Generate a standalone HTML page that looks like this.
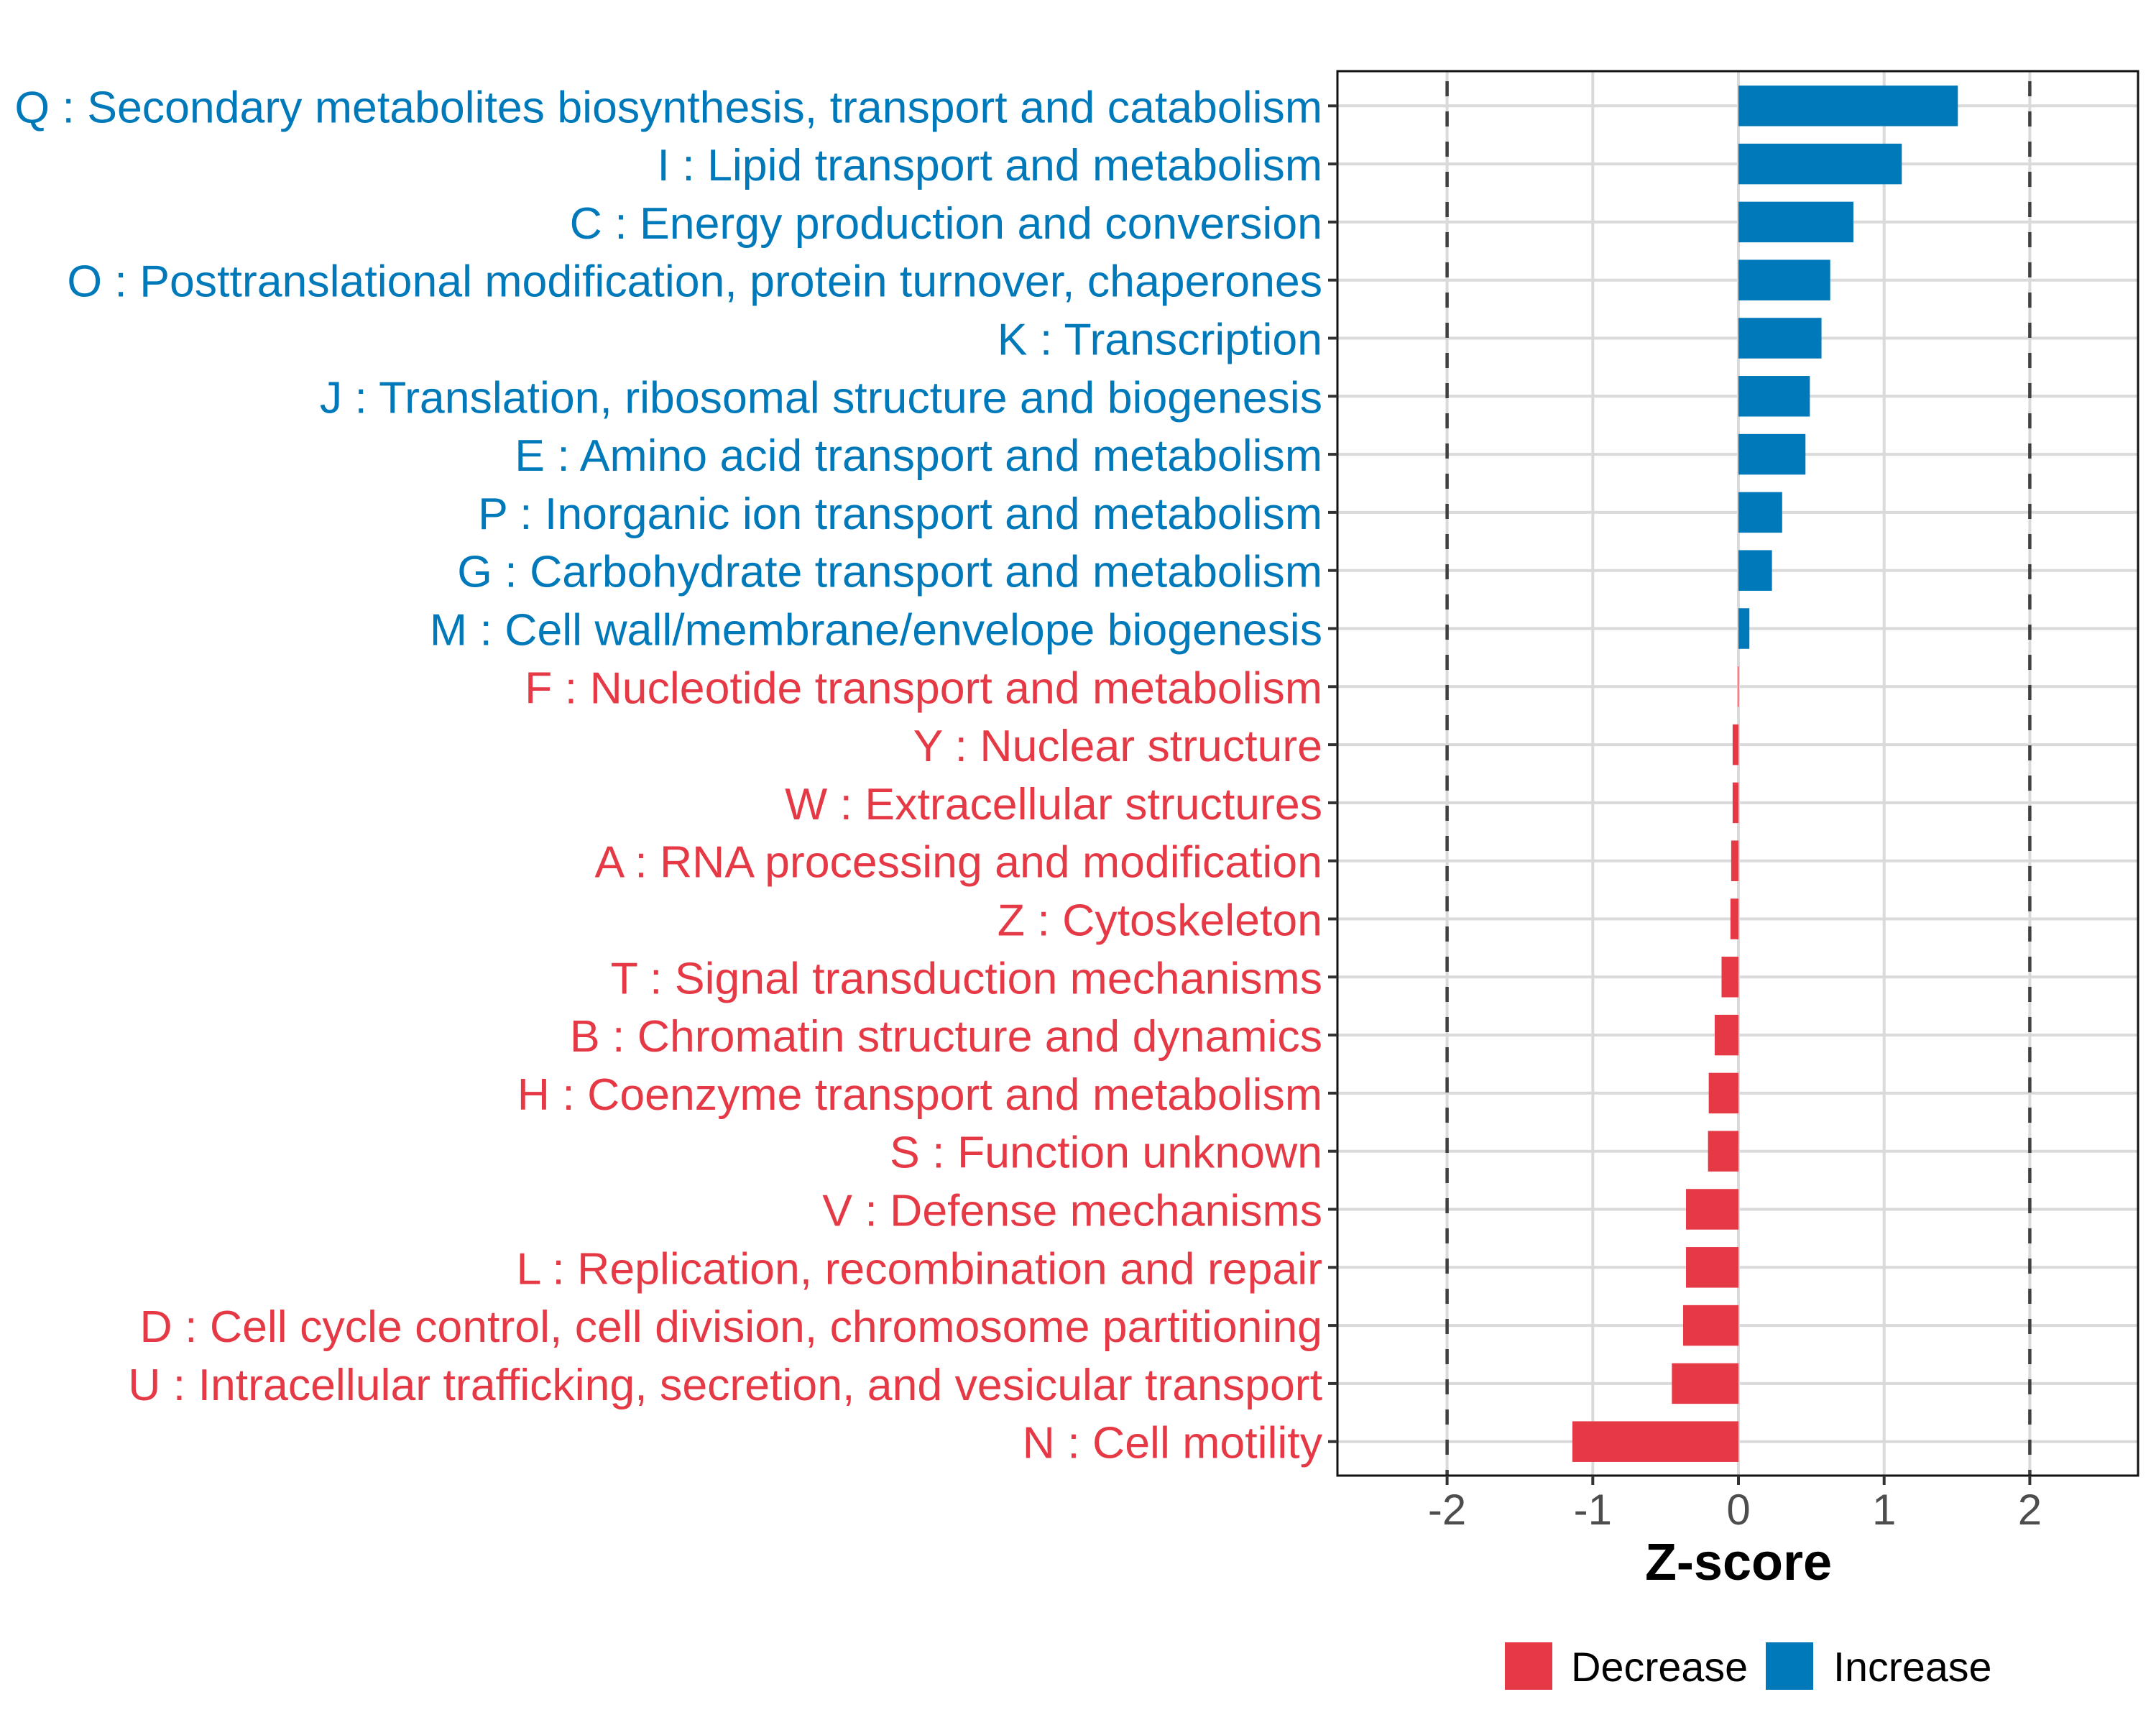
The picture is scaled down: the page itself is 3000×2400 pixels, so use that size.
<!DOCTYPE html>
<html><head><meta charset="utf-8"><style>
html,body{margin:0;padding:0;background:#fff;}
svg{display:block;font-family:"Liberation Sans",Arial,sans-serif;}
</style></head><body>
<svg id="chart" width="3000" height="2400" viewBox="0 0 3000 2400" xmlns="http://www.w3.org/2000/svg">
<rect width="3000" height="2400" fill="#fff"/>
<g id="grid"></g><g id="bars"></g><g id="axes"></g>
</svg>
<script>
const categories = [
"Q : Secondary metabolites biosynthesis, transport and catabolism",
"I : Lipid transport and metabolism",
"C : Energy production and conversion",
"O : Posttranslational modification, protein turnover, chaperones",
"K : Transcription",
"J : Translation, ribosomal structure and biogenesis",
"E : Amino acid transport and metabolism",
"P : Inorganic ion transport and metabolism",
"G : Carbohydrate transport and metabolism",
"M : Cell wall/membrane/envelope biogenesis",
"F : Nucleotide transport and metabolism",
"Y : Nuclear structure",
"W : Extracellular structures",
"A : RNA processing and modification",
"Z : Cytoskeleton",
"T : Signal transduction mechanisms",
"B : Chromatin structure and dynamics",
"H : Coenzyme transport and metabolism",
"S : Function unknown",
"V : Defense mechanisms",
"L : Replication, recombination and repair",
"D : Cell cycle control, cell division, chromosome partitioning",
"U : Intracellular trafficking, secretion, and vesicular transport",
"N : Cell motility"];
const zscores = [1.506,1.121,0.789,0.63,0.57,0.49,0.46,0.30,0.23,0.075,-0.005,-0.04,-0.04,-0.05,-0.055,-0.116,-0.163,-0.204,-0.209,-0.36,-0.36,-0.38,-0.457,-1.14];
const xTicks = [-2,-1,0,1,2];
const xTickLabels = ["-2","-1","0","1","2"];
const thresholds = [-2,2];

const NS="http://www.w3.org/2000/svg";
const PL=1861, PR=2975, PT=99, PB=2053;
const X0=2419, UNIT=202.7;
const ROW0=147.3, STEP=80.8, BARH=56.5;
const BLUE="#0079BA", RED="#E63946";
function xs(v){return X0+v*UNIT;}
function ys(i){return ROW0+i*STEP;}
function mk(tag,attrs,parent){const e=document.createElementNS(NS,tag);for(const k in attrs)e.setAttribute(k,attrs[k]);parent.appendChild(e);return e;}
const grid=document.getElementById('grid'), bars=document.getElementById('bars'), axes=document.getElementById('axes');

categories.forEach((c,i)=>{
  const l=mk('line',{x1:PL,x2:PR,y1:ys(i),y2:ys(i),stroke:'#dadada','stroke-width':4},grid);
  
  
});
xTicks.forEach(v=>{
  const l=mk('line',{x1:xs(v),x2:xs(v),y1:PT,y2:PB,stroke:'#dadada','stroke-width':4},grid);
  
  
});
thresholds.forEach(v=>{
  const l=mk('line',{x1:xs(v),x2:xs(v),y1:PT,y2:PB,stroke:'#404040','stroke-width':4.5,'stroke-dasharray':'21 21','stroke-dashoffset':28},grid);
  
  
});
zscores.forEach((v,i)=>{
  const x1=Math.min(xs(0),xs(v)), w=Math.max(Math.abs(xs(v)-xs(0)),0.8);
  const r=mk('rect',{x:x1,y:ys(i)-BARH/2,width:w,height:BARH,fill:v>=0?BLUE:RED},bars);
  
  
});
const border=mk('rect',{x:PL,y:PT,width:PR-PL,height:PB-PT,fill:'none',stroke:'#111','stroke-width':3},axes);


categories.forEach((c,i)=>{
  const t=mk('line',{x1:PL-13,x2:PL,y1:ys(i),y2:ys(i),stroke:'#333','stroke-width':4},axes);
  
  
  const tx=mk('text',{x:1840,y:ys(i)+23,'text-anchor':'end','font-size':62.6,fill:zscores[i]>=0?BLUE:RED},axes);
  tx.textContent=c;
  
  
});
xTicks.forEach((v,i)=>{
  const t=mk('line',{x1:xs(v),x2:xs(v),y1:PB,y2:PB+13,stroke:'#333','stroke-width':4},axes);
  
  
  const tx=mk('text',{x:xs(v),y:2121,'text-anchor':'middle','font-size':60,fill:'#4d4d4d'},axes);
  tx.textContent=xTickLabels[i];
  
  
});
</script>
<svg style="position:absolute;left:0;top:0" width="3000" height="2400">
<text x="2419" y="2198" text-anchor="middle" font-size="72" font-weight="bold" font-family="Liberation Sans, Arial, sans-serif" fill="#000">Z-score</text>
<g>
<rect x="2094" y="2285" width="66" height="66" fill="#E63946"/>
<text x="2186" y="2339" font-size="57.5" font-family="Liberation Sans, Arial, sans-serif" fill="#000">Decrease</text>
<rect x="2457" y="2285" width="66" height="66" fill="#0079BA"/>
<text x="2551" y="2339" font-size="57.5" font-family="Liberation Sans, Arial, sans-serif" fill="#000">Increase</text>
</g>
</svg>
</body></html>
